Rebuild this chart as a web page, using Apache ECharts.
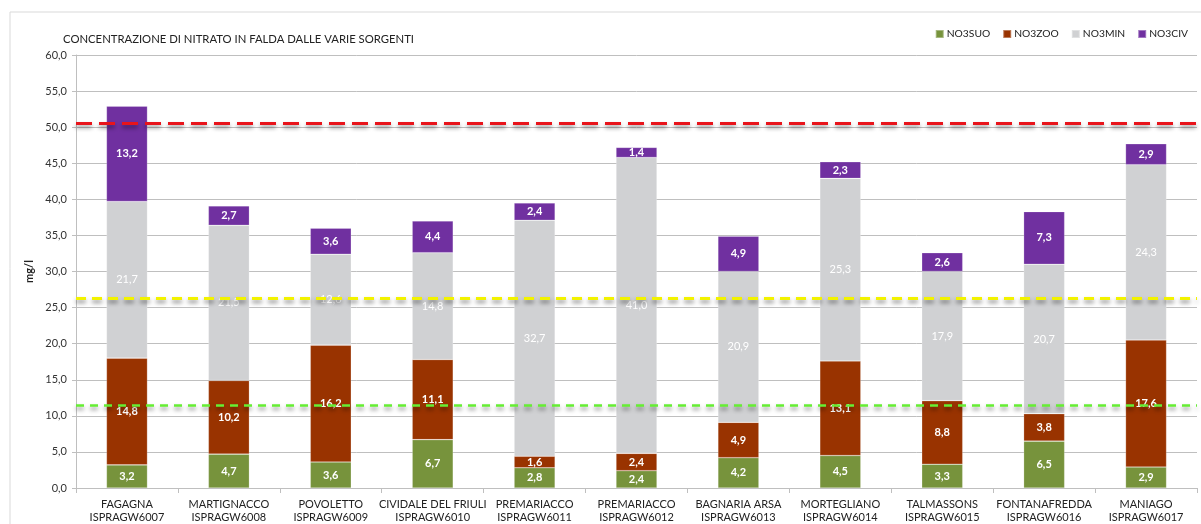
<!DOCTYPE html>
<html>
<head>
<meta charset="utf-8">
<script src="https://cdn.jsdelivr.net/npm/echarts@6/dist/echarts.min.js"></script>
<style>
  html, body { margin: 0; padding: 0; background: #ffffff; }
  #chart { width: 1201px; height: 524px; }
</style>
</head>
<body>
<div id="chart"></div>
<script>
// Sampling points (site name + well code)
const categories = [
  'FAGAGNA\nISPRAGW6007',
  'MARTIGNACCO\nISPRAGW6008',
  'POVOLETTO\nISPRAGW6009',
  'CIVIDALE DEL FRIULI\nISPRAGW6010',
  'PREMARIACCO\nISPRAGW6011',
  'PREMARIACCO\nISPRAGW6012',
  'BAGNARIA ARSA\nISPRAGW6013',
  'MORTEGLIANO\nISPRAGW6014',
  'TALMASSONS\nISPRAGW6015',
  'FONTANAFREDDA\nISPRAGW6016',
  'MANIAGO\nISPRAGW6017'
];

// Nitrate contribution by source, mg/l
const no3suo = [3.2, 4.7, 3.6, 6.7, 2.8, 2.4, 4.2, 4.5, 3.3, 6.5, 2.9];
const no3zoo = [14.8, 10.2, 16.2, 11.1, 1.6, 2.4, 4.9, 13.1, 8.8, 3.8, 17.6];
const no3min = [21.7, 21.5, 12.6, 14.8, 32.7, 41.0, 20.9, 25.3, 17.9, 20.7, 24.3];
const no3civ = [13.2, 2.7, 3.6, 4.4, 2.4, 1.4, 4.9, 2.3, 2.6, 7.3, 2.9];

// Reference thresholds, mg/l
const limitRed = 50.5;
const limitYellow = 26.3;
const limitGreen = 11.5;

const FONT = 'Lato, "Open Sans", sans-serif';
const fmt = v => Number(v).toFixed(1).replace('.', ',');

function seriesOf(name, data, color) {
  return {
    name: name,
    type: 'bar',
    stack: 'total',
    barWidth: 41,
    data: data,
    itemStyle: { color: color, borderColor: 'rgba(255,255,255,0.35)', borderWidth: 0.6 },
    label: {
      show: true,
      position: 'inside',
      color: '#ffffff',
      fontFamily: FONT,
      fontSize: 11,
      fontWeight: 'bold',
      formatter: p => fmt(p.value)
    }
  };
}

function threshold(value, color, width, dash) {
  return {
    silent: true,
    symbol: 'none',
    label: { show: false },
    lineStyle: {
      color: color,
      width: width,
      type: dash,
      shadowColor: 'rgba(0,0,0,0.45)',
      shadowBlur: 4,
      shadowOffsetY: 3
    },
    data: [{ yAxis: value }]
  };
}

const suo = seriesOf('NO3SUO', no3suo, '#77933C');
const zoo = seriesOf('NO3ZOO', no3zoo, '#993300');
const min = seriesOf('NO3MIN', no3min, '#D0D1D3');
const civ = seriesOf('NO3CIV', no3civ, '#7030A0');
min.label.fontWeight = 'normal';

// Threshold lines ride on separate empty line series so they sit above every bar
const lines = [
  { v: limitGreen, c: '#66EE33', w: 2.5, d: [8, 6] },
  { v: limitYellow, c: '#F2F200', w: 3, d: [10, 6] },
  { v: limitRed, c: '#E8141B', w: 3, d: [16, 7] }
].map((t, i) => ({
  name: 'soglia' + i,
  type: 'line',
  data: [],
  z: 10,
  markLine: threshold(t.v, t.c, t.w, t.d)
}));

const chart = echarts.init(document.getElementById('chart'), null, { renderer: 'canvas' });
chart.setOption({
  backgroundColor: '#ffffff',
  animation: false,
  title: {
    text: 'CONCENTRAZIONE DI NITRATO IN FALDA DALLE VARIE SORGENTI',
    left: 58,
    top: 29,
    textStyle: { fontFamily: FONT, fontSize: 11.3, fontWeight: 'normal', color: '#222222' }
  },
  legend: {
    data: ['NO3SUO', 'NO3ZOO', 'NO3MIN', 'NO3CIV'],
    right: 8,
    top: 24,
    itemWidth: 8,
    itemHeight: 8,
    itemGap: 12,
    icon: 'rect',
    textStyle: { fontFamily: FONT, fontSize: 10.3, color: '#222222', padding: [0, 0, 0, -2] }
  },
  graphic: [{
    type: 'rect',
    shape: { x: 10, y: 12, width: 1200, height: 520 },
    style: { fill: 'none', stroke: '#d9d9d9', lineWidth: 1 },
    silent: true,
    z: -10
  }],
  grid: { left: 76, right: 4, top: 55, bottom: 36 },
  xAxis: {
    type: 'category',
    data: categories,
    axisLine: { lineStyle: { color: '#bfbfbf' } },
    axisTick: { show: true, length: 5, lineStyle: { color: '#bfbfbf' } },
    axisLabel: { fontFamily: FONT, fontSize: 11, color: '#222222', lineHeight: 13, margin: 10, interval: 0 }
  },
  yAxis: {
    type: 'value',
    min: 0,
    max: 60,
    interval: 5,
    name: 'mg/l',
    nameLocation: 'middle',
    nameGap: 37,
    nameRotate: 90,
    nameTextStyle: { fontFamily: FONT, fontSize: 11, fontWeight: 'bold', color: '#222222' },
    axisLine: { show: true, lineStyle: { color: '#bfbfbf' } },
    axisTick: { show: true, length: 4, lineStyle: { color: '#bfbfbf' } },
    splitLine: { lineStyle: { color: '#bfbfbf' } },
    axisLabel: { fontFamily: FONT, fontSize: 11, color: '#333333', margin: 9, formatter: v => fmt(v) }
  },
  series: [suo, zoo, min, civ].concat(lines)
});
</script>
</body>
</html>
